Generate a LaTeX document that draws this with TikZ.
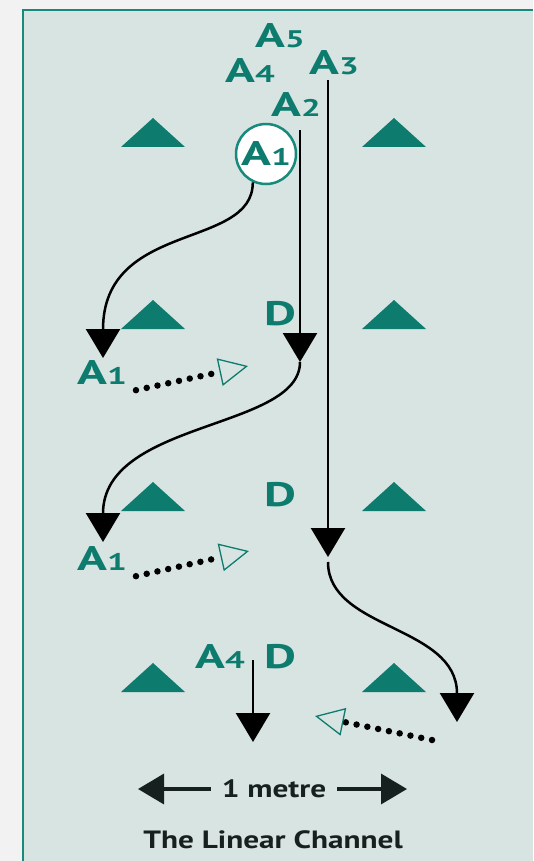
\documentclass[tikz,border=0pt]{standalone}
\usepackage{fontspec}
\setmainfont{PT Sans}[FakeStretch=1.25]
\newfontfamily\tagfont{PT Sans}[FakeStretch=1.45]
\usetikzlibrary{arrows.meta, positioning, calc}
\definecolor{channelteal}{HTML}{0D7C6E}
\definecolor{rimteal}{HTML}{178A7C}
\definecolor{panelgrey}{HTML}{D8E4E2}
\definecolor{pagegrey}{HTML}{F2F2F2}
\definecolor{inkdark}{HTML}{16201F}

\newcommand{\agent}[1]{A{\fontsize{24}{24}\selectfont #1}}

\tikzset{
  tag/.style={channelteal, inner sep=0pt, font=\tagfont\fontsize{34}{34}\selectfont\bfseries},
  walk/.style={line width=2.5pt, -{Triangle[width=34pt, length=29pt]}},
  glance/.style={line width=6.5pt, line cap=round, dash pattern=on 0pt off 11pt,
    -{Triangle[open, width=28pt, length=29pt, line width=1.3pt, color=channelteal]}},
  span/.style={inkdark, line width=3.5pt, shorten <=11pt, -{Triangle[width=30pt, length=26pt]}},
  caption/.style={inkdark, inner sep=0pt, font=\fontsize{25}{25}\selectfont\bfseries},
  cone/.style={fill=channelteal}
}

\begin{document}
\begin{tikzpicture}[x=1pt, y=-1pt]
  \useasboundingbox (0,0) rectangle (533,861);
  \fill[pagegrey] (0,0) rectangle (533,861);
  \fill[panelgrey] (23,10) rectangle (533,861);
  \draw[rimteal, line width=2pt] (23,861) -- (23,10) -- (533,10);

  % cones marking the channel, four rows
  \foreach \y in {147,329,511,692}
    \foreach \x in {153,394}
      \fill[cone] (\x-32,\y) -- (\x,\y-29) -- (\x+32,\y) -- cycle;

  % agents at the start
  \node[tag] (a5) at (280,36) {\agent{5}};
  \node[tag] (a4) at (250,71) {\agent{4}};
  \node[tag] (a3) at (334,63) {\agent{3}};
  \node[tag] (a2) at (296,105) {\agent{2}};
  \node[tag, circle, draw=rimteal, fill=white, line width=2.5pt, minimum size=60pt] (a1) at (266,154) {\agent{1}};

  % labels down the channel
  \node[tag] (a1b) at (102,373) {\agent{1}};
  \node[tag] (a1c) at (102,559) {\agent{1}};
  \node[tag] (da) at (280,314) {D};
  \node[tag] (db) at (280,495) {D};
  \node[tag] (dc) at (280,657) {D};
  \node[tag] (a4b) at (220,657) {\agent{4}};

  % stops and gaze points
  \coordinate (s1) at (103,358);
  \coordinate (s2) at (300,362);
  \coordinate (s3) at (103,542);
  \coordinate (s4) at (328,557);
  \coordinate (s5) at (457,722);
  \coordinate (s6) at (253,742);
  \coordinate (g1) at (248,366);
  \coordinate (g2) at (249,551);
  \coordinate (g3) at (315,716);
  \coordinate (g3from) at (432,740);

  % walking paths
  \draw[walk] (a1.-115) .. controls (253,250) and (103,220) .. (s1);
  \draw[walk, shorten <=13pt] (a2.south -| s2) -- (s2);
  \draw[walk] (s2) .. controls (300,430) and (103,420) .. (s3);
  \draw[walk, shorten <=5pt] (a3.south -| s4) -- (s4);
  \draw[walk, shorten <=5pt] (s4) .. controls (328,630) and (457,625) .. (s5);
  \draw[walk, shorten <=3pt] (a4b.center -| s6) -- (s6);

  % looking across
  \draw[glance] ($(a1b.south east)+(9,5)$) -- (g1);
  \draw[glance] ($(a1c.south east)+(9,5)$) -- (g2);
  \draw[glance] (g3from) -- (g3);

  % scale
  \node[caption] (metre) at (274,789) {1 metre};
  \coordinate (ml) at (138,789);
  \coordinate (mr) at (407,789);
  \draw[span] (metre.west) -- (ml);
  \draw[span] (metre.east) -- (mr);
  \node[caption] (title) at (273,840) {The Linear Channel};
\end{tikzpicture}
\end{document}
